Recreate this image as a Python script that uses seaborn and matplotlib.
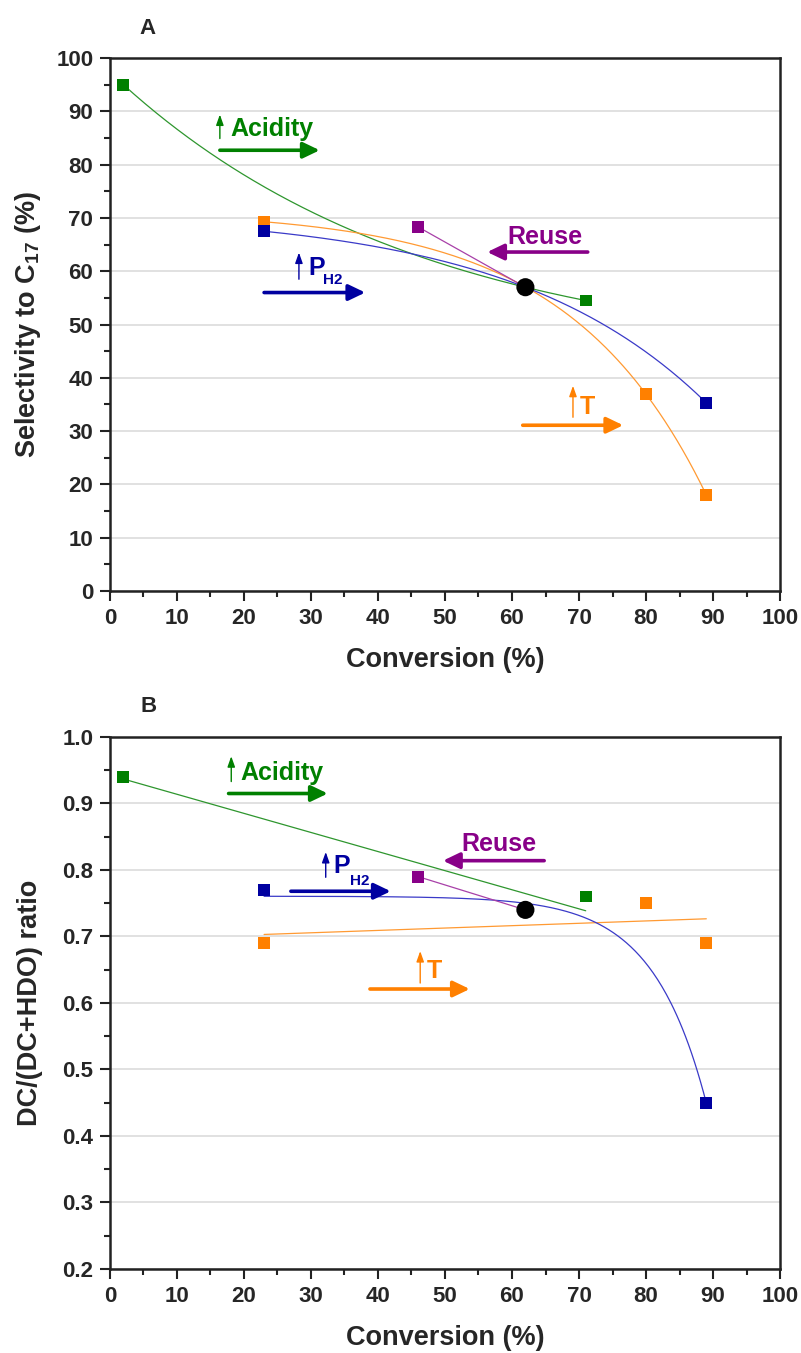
import numpy as np
import matplotlib
matplotlib.use('Agg')
import matplotlib.pyplot as plt
import seaborn as sns

# reference run (black circle), shared by every series
ref_conv = [62]
ref_sel = [57]
ref_ratio = [0.74]

# increasing acidity
acid_conv = [2, 71]
acid_sel = [95, 54.5]
acid_ratio = [0.94, 0.76]

# increasing temperature
temp_conv = [23, 80, 89]
temp_sel = [69.3, 37, 18]
temp_ratio = [0.69, 0.75, 0.69]

# increasing H2 pressure
ph2_conv = [23, 89]
ph2_sel = [67.5, 35.3]
ph2_ratio = [0.77, 0.45]

# catalyst reuse
reuse_conv = [46]
reuse_sel = [68.3]
reuse_ratio = [0.79]

GREEN, ORANGE, BLUE, PURPLE = '#008000', '#FF8000', '#0000A0', '#880088'
LGREEN, LORANGE, LBLUE, LPURPLE = '#2E962E', '#FF9A33', '#3A3AC8', '#A840A8'

sns.set_theme(style='ticks')
plt.rcParams['font.family'] = ['Liberation Sans', 'DejaVu Sans']
plt.rcParams['mathtext.fontset'] = 'custom'
plt.rcParams['mathtext.rm'] = 'Liberation Sans'
plt.rcParams['mathtext.bf'] = 'Liberation Sans:bold'


def exp_fit(x, y, t=None, n=300):
    """y = a + b*exp(x/t), a, b linear least squares, t by grid search"""
    x = np.asarray(x, float)
    y = np.asarray(y, float)

    def solve(tt):
        A = np.column_stack([np.ones_like(x), np.exp(x / tt)])
        coef = np.linalg.lstsq(A, y, rcond=None)[0]
        return coef, np.sum((A @ coef - y) ** 2)

    if t is None:
        grid = np.concatenate([-np.geomspace(3, 400, 3000), np.geomspace(3, 400, 3000)])
        t = min(grid, key=lambda c: solve(c)[1])
    coef, _ = solve(t)
    xs = np.linspace(x.min(), x.max(), n)
    return xs, coef[0] + coef[1] * np.exp(xs / t)


def lin_fit(x, y, n=50):
    k, b = np.polyfit(x, y, 1)
    xs = np.linspace(min(x), max(x), n)
    return xs, k * xs + b


def curve(ax, xs, ys, color):
    sns.lineplot(x=xs, y=ys, ax=ax, color=color, lw=0.9, sort=False,
                 estimator=None, legend=False, zorder=3)


def points(ax, x, y, color, marker='s', s=72):
    sns.scatterplot(x=x, y=y, ax=ax, color=color, marker=marker, s=s,
                    edgecolor='none', linewidth=0, zorder=5, legend=False)


def arrow(ax, x0, y0, x1, y1, color, big=True):
    if big:
        props = dict(arrowstyle='-|>,head_length=0.5,head_width=0.24', lw=2.6,
                     color=color, mutation_scale=20, shrinkA=0, shrinkB=0)
    else:
        props = dict(arrowstyle='-|>,head_length=0.45,head_width=0.16', lw=1.0,
                     color=color, mutation_scale=14, shrinkA=0, shrinkB=0)
    ax.annotate('', xy=(x1, y1), xytext=(x0, y0), arrowprops=props, zorder=6)


def label(ax, x, y, s, color, size=18):
    ax.text(x, y, s, color=color, fontsize=size, fontweight='bold',
            ha='left', va='baseline', zorder=6)


def style_axes(ax, ymin, ymax, ystep, yfmt, ylabel):
    ax.set_xlim(0, 100)
    ax.set_ylim(ymin, ymax)
    ax.set_xticks(np.arange(0, 101, 10))
    ax.set_xticks(np.arange(5, 100, 10), minor=True)
    yt = np.arange(ymin, ymax + ystep / 2, ystep)
    ax.set_yticks(yt)
    ax.set_yticks(yt[:-1] + ystep / 2, minor=True)
    ax.set_yticklabels([yfmt.format(v) for v in yt])
    ax.set_axisbelow(True)
    ax.yaxis.grid(True, color='#DCDCDC', lw=1.2)
    ax.xaxis.grid(False)
    for sp in ax.spines.values():
        sp.set_linewidth(1.8)
        sp.set_color('#222222')
        sp.set_visible(True)
    ax.tick_params(which='major', direction='out', length=7, width=1.5,
                   labelsize=16, pad=5, color='#222222')
    ax.tick_params(which='minor', direction='out', length=4, width=1.5, color='#222222')
    ax.tick_params(top=False, right=False, which='both')
    for t in ax.get_xticklabels() + ax.get_yticklabels():
        t.set_fontweight('bold')
    ax.set_xlabel('Conversion (%)', fontsize=19.5, fontweight='bold')
    ax.set_ylabel(ylabel, fontsize=19.5, fontweight='bold')
    ax.xaxis.set_label_coords(0.5, -0.105)
    ax.yaxis.set_label_coords(-0.10, 0.5)


fig = plt.figure(figsize=(8.01, 13.53), dpi=100)
axA = fig.add_axes([0.1373, 0.5632, 0.8365, 0.3939])
axB = fig.add_axes([0.1373, 0.0621, 0.8365, 0.3932])

# ---------- A: selectivity ----------
ax = axA
curve(ax, *exp_fit(acid_conv + ref_conv, acid_sel + ref_sel), LGREEN)
curve(ax, *exp_fit(temp_conv + ref_conv, temp_sel + ref_sel), LORANGE)
curve(ax, *exp_fit(ph2_conv + ref_conv, ph2_sel + ref_sel), LBLUE)
curve(ax, *lin_fit(reuse_conv + ref_conv, reuse_sel + ref_sel), LPURPLE)
points(ax, acid_conv, acid_sel, GREEN)
points(ax, temp_conv, temp_sel, ORANGE)
points(ax, ph2_conv, ph2_sel, BLUE)
points(ax, reuse_conv, reuse_sel, PURPLE)
points(ax, ref_conv, ref_sel, 'black', marker='o', s=170)
style_axes(ax, 0, 100, 10, '{:.0f}', r'Selectivity to C$_{\mathbf{17}}$ (%)')

arrow(ax, 16.4, 84.9, 16.4, 89.4, GREEN, big=False)
label(ax, 17.9, 85.4, 'Acidity', GREEN)
arrow(ax, 16.4, 82.7, 31.3, 82.7, GREEN)

label(ax, 59.3, 65.1, 'Reuse', PURPLE)
arrow(ax, 71.3, 63.6, 56.3, 63.6, PURPLE)

arrow(ax, 28.2, 58.5, 28.2, 63.5, BLUE, big=False)
label(ax, 29.6, 59.3, 'P', BLUE)
label(ax, 31.8, 57.6, 'H2', BLUE, size=11)
arrow(ax, 23.0, 56.0, 38.1, 56.0, BLUE)

arrow(ax, 69.1, 32.6, 69.1, 38.5, ORANGE, big=False)
label(ax, 70.1, 33.3, 'T', ORANGE)
arrow(ax, 61.6, 31.1, 76.6, 31.1, ORANGE)

# ---------- B: DC/(DC+HDO) ----------
ax = axB
curve(ax, *lin_fit(acid_conv + ref_conv, acid_ratio + ref_ratio), LGREEN)
curve(ax, *lin_fit(temp_conv + ref_conv, temp_ratio + ref_ratio), LORANGE)
curve(ax, *exp_fit(ph2_conv + ref_conv, ph2_ratio + ref_ratio, t=8.0), LBLUE)
curve(ax, *lin_fit(reuse_conv + ref_conv, reuse_ratio + ref_ratio), LPURPLE)
points(ax, acid_conv, acid_ratio, GREEN)
points(ax, temp_conv, temp_ratio, ORANGE)
points(ax, ph2_conv, ph2_ratio, BLUE)
points(ax, reuse_conv, reuse_ratio, PURPLE)
points(ax, ref_conv, ref_ratio, 'black', marker='o', s=170)
style_axes(ax, 0.2, 1.0, 0.1, '{:.1f}', 'DC/(DC+HDO) ratio')

arrow(ax, 18.1, 0.933, 18.1, 0.971, GREEN, big=False)
label(ax, 19.5, 0.936, 'Acidity', GREEN)
arrow(ax, 17.7, 0.915, 32.5, 0.915, GREEN)

label(ax, 52.5, 0.828, 'Reuse', PURPLE)
arrow(ax, 64.8, 0.814, 49.7, 0.814, PURPLE)

arrow(ax, 32.2, 0.789, 32.2, 0.827, BLUE, big=False)
label(ax, 33.4, 0.795, 'P', BLUE)
label(ax, 35.8, 0.778, 'H2', BLUE, size=11)
arrow(ax, 27.0, 0.768, 41.9, 0.768, BLUE)

arrow(ax, 46.3, 0.630, 46.3, 0.678, ORANGE, big=False)
label(ax, 47.3, 0.637, 'T', ORANGE)
arrow(ax, 38.8, 0.621, 53.7, 0.621, ORANGE)

fig.text(148 / 801, 1 - 28 / 1353, 'A', fontsize=16, fontweight='bold', ha='center', va='center')
fig.text(149 / 801, 1 - 707 / 1353, 'B', fontsize=16, fontweight='bold', ha='center', va='center')

fig.savefig('out.png', dpi=100)
